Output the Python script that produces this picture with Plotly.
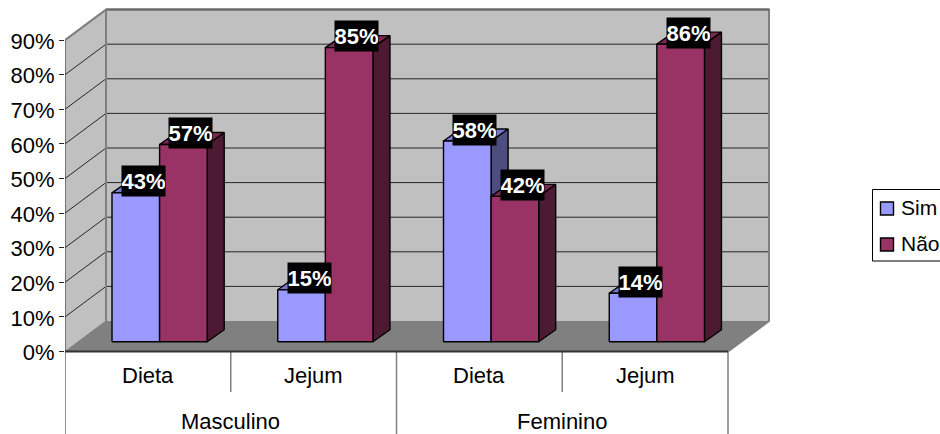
import plotly.graph_objects as go

# Survey shares per sex and type of regimen
groups = ["Masculino", "Feminino"]
categories = ["Dieta", "Jejum", "Dieta", "Jejum"]
sim_values = [43, 15, 58, 14]
nao_values = [57, 85, 42, 86]
y_ticks = [0, 10, 20, 30, 40, 50, 60, 70, 80, 90]

FONT = "Liberation Sans, Arial, sans-serif"
SIM = dict(front="#9999FF", top="#7A7ACC", side="#4D4D80", name="Sim")
NAO = dict(front="#993366", top="#7A2952", side="#4D1A33", name="Não")

# Page layout of the plotting region
WIDTH, HEIGHT = 940, 434
LEFT = 65
CAT_PX = 165.75     # one category along the x axis
UNIT_PX = 3.46      # one percentage point along the y axis
ZERO_PX = 351.5     # vertical page position of 0%

# Oblique projection of the chart box and of the columns, in pixels
WALL_DX, WALL_DY = 41, 30.5
BAR_DY = 9.8
BAR_SIDE_DX, BAR_SIDE_DY = 17, 12
BAR_START = 47 / CAT_PX
BAR_WIDTH = 47.6 / CAT_PX

wall_x = WALL_DX / CAT_PX
wall_y = WALL_DY / UNIT_PX
side_x = BAR_SIDE_DX / CAT_PX
side_y = BAR_SIDE_DY / UNIT_PX
base_y = BAR_DY / UNIT_PX
n_cat = len(categories)


def polygon(xs, ys, fill, line_color=None, line_width=0):
    return go.Scatter(
        x=xs + xs[:1], y=ys + ys[:1], mode="lines", fill="toself", fillcolor=fill,
        line=dict(color=line_color or fill, width=line_width),
        hoverinfo="skip", showlegend=False,
    )


def segment(xs, ys, color, width):
    return go.Scatter(
        x=xs, y=ys, mode="lines", line=dict(color=color, width=width),
        hoverinfo="skip", showlegend=False,
    )


def column(left, value, style):
    """Side, top and front faces of one column."""
    right = left + BAR_WIDTH
    top = base_y + value
    return [
        polygon([right, right + side_x, right + side_x, right],
                [base_y, base_y + side_y, top + side_y, top],
                style["side"], "#000000", 1.4),
        polygon([left, left + side_x, right + side_x, right],
                [top, top + side_y, top + side_y, top],
                style["top"], "#000000", 1.4),
        polygon([left, right, right, left],
                [base_y, base_y, top, top],
                style["front"], "#000000", 1.4),
    ]


fig = go.Figure()

# Back wall, side wall and floor of the box
y_top = y_ticks[-1]
fig.add_trace(polygon([wall_x, n_cat + wall_x, n_cat + wall_x, wall_x],
                      [wall_y, wall_y, y_top + wall_y, y_top + wall_y], "#C0C0C0"))
fig.add_trace(polygon([0, wall_x, wall_x, 0],
                      [0, wall_y, y_top + wall_y, y_top], "#C0C0C0"))
fig.add_trace(polygon([0, n_cat, n_cat + wall_x, wall_x],
                      [0, 0, wall_y, wall_y], "#808080"))

# Gridlines wrap from the side wall onto the back wall
for t in y_ticks[1:-1]:
    fig.add_trace(segment([0, wall_x, n_cat + wall_x],
                          [t, t + wall_y, t + wall_y], "#262626", 1))

# Box outline
fig.add_trace(segment([0, wall_x, n_cat + wall_x, n_cat + wall_x, n_cat],
                      [y_top, y_top + wall_y, y_top + wall_y, wall_y, 0], "#7F7F7F", 2))
fig.add_trace(segment([wall_x, n_cat + wall_x], [y_top + wall_y] * 2, "#666666", 2))
fig.add_trace(segment([wall_x, wall_x], [wall_y, y_top + wall_y], "#7F7F7F", 2))
fig.add_trace(segment([0, wall_x], [0, wall_y], "#7F7F7F", 1))

# Columns, back to front within each category
annotations = []
for i in range(n_cat):
    sim_left = i + BAR_START
    nao_left = sim_left + BAR_WIDTH
    for trace in column(sim_left, sim_values[i], SIM) + column(nao_left, nao_values[i], NAO):
        fig.add_trace(trace)
    for left, value in ((sim_left, sim_values[i]), (nao_left, nao_values[i])):
        annotations.append(dict(
            x=left + (BAR_WIDTH + side_x) / 2, y=base_y + value + side_y / 2,
            xref="x", yref="y", text=f"<b>{value}%</b>", showarrow=False,
            xanchor="center", yanchor="middle", yshift=5.5, xshift=-1,
            width=43, height=30, bgcolor="#000000", borderpad=0,
            font=dict(family=FONT, size=22, color="#FFFFFF"),
        ))

# Axis base and multi-level category separators
below_short = -(392 - ZERO_PX) / UNIT_PX
below_long = -(HEIGHT + 2 - ZERO_PX) / UNIT_PX
fig.add_trace(segment([0, 0], [below_long, y_top], "#262626", 1))
for i in range(1, n_cat + 1):
    level_y = below_long if i % 2 == 0 else below_short
    fig.add_trace(segment([i, i], [0, level_y], "#7F7F7F", 1.5))
fig.add_trace(segment([0, n_cat], [0, 0], "#333333", 2))

# Two-level category labels
for i, name in enumerate(categories):
    annotations.append(dict(
        x=i + 0.5, y=-(375 - ZERO_PX) / UNIT_PX, xref="x", yref="y", text=name,
        showarrow=False, font=dict(family=FONT, size=22, color="#000000"),
    ))
for i, name in enumerate(groups):
    annotations.append(dict(
        x=2 * i + 1, y=-(421.5 - ZERO_PX) / UNIT_PX, xref="x", yref="y", text=name,
        showarrow=False, font=dict(family=FONT, size=22, color="#000000"),
    ))


# Legend, positioned in page pixels
def page_x(px):
    return (px - LEFT) / (WIDTH - LEFT)


def page_y(py):
    return (HEIGHT - py) / HEIGHT


shapes = [dict(
    type="rect", xref="paper", yref="paper",
    x0=page_x(872.5), x1=page_x(960), y0=page_y(261), y1=page_y(189.5),
    line=dict(color="#000000", width=1), fillcolor="#FFFFFF",
)]
for style, y0 in ((SIM, 202), (NAO, 238)):
    shapes.append(dict(
        type="rect", xref="paper", yref="paper",
        x0=page_x(880.5), x1=page_x(893.5), y0=page_y(y0 + 13), y1=page_y(y0),
        line=dict(color="#000000", width=1.4), fillcolor=style["front"],
    ))
    annotations.append(dict(
        x=page_x(898.5), y=page_y(y0 + 5), xref="paper", yref="paper", text=style["name"],
        showarrow=False, xanchor="left", yanchor="middle",
        font=dict(family=FONT, size=21, color="#000000"),
    ))

fig.update_layout(
    width=WIDTH, height=HEIGHT, autosize=False,
    margin=dict(l=LEFT, r=0, t=0, b=0),
    paper_bgcolor="#FFFFFF", plot_bgcolor="#FFFFFF",
    showlegend=False, hovermode=False,
    annotations=annotations, shapes=shapes,
    xaxis=dict(range=[0, (WIDTH - LEFT) / CAT_PX], visible=False, fixedrange=True),
    yaxis=dict(
        range=[(ZERO_PX - HEIGHT) / UNIT_PX, ZERO_PX / UNIT_PX],
        tickmode="array", tickvals=y_ticks, ticktext=[f"{t}%" for t in y_ticks],
        ticks="outside", ticklen=5, tickcolor="#262626", tickwidth=1,
        showgrid=False, zeroline=False, showline=False, fixedrange=True,
        ticklabelstandoff=0, ticklabelshift=1,
        tickfont=dict(family=FONT, size=22, color="#000000"),
    ),
)

fig.write_html("out.html", config=dict(displayModeBar=False))
